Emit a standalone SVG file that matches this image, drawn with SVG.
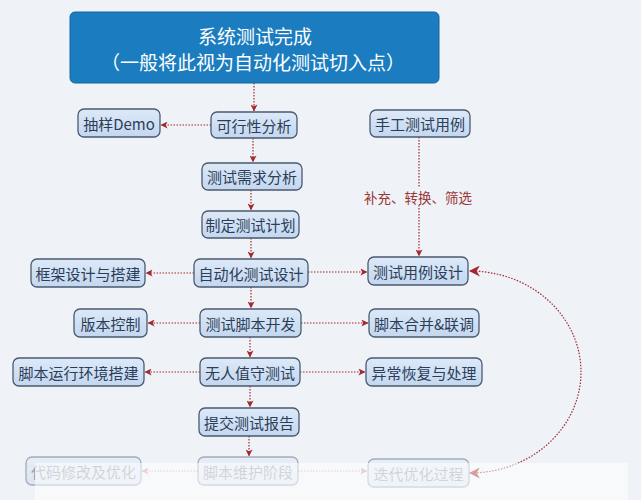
<svg xmlns="http://www.w3.org/2000/svg" width="641" height="500" viewBox="0 0 641 500">
<defs>
<linearGradient id="nodeFill" x1="0" y1="0" x2="0" y2="1">
<stop offset="0" stop-color="#dde9f8"/>
<stop offset="1" stop-color="#c3d7ef"/>
</linearGradient>
<marker id="arr" viewBox="0 0 8 8" refX="7.5" refY="4" markerWidth="7" markerHeight="7" markerUnits="userSpaceOnUse" orient="auto-start-reverse">
<path d="M0,0 L8,4 L0,8 L2,4 z" fill="#a3282e"/>
</marker>
<marker id="arrBig" viewBox="0 0 10 10" refX="9" refY="5" markerWidth="11" markerHeight="11" markerUnits="userSpaceOnUse" orient="auto-start-reverse">
<path d="M0,0 L10,5 L0,10 L3,5 z" fill="#a3282e"/>
</marker>
<style>
.bg{fill:#eff2f7}
.node rect{fill:url(#nodeFill);stroke:#4a5a70;stroke-width:1.3}
.node text{font-family:"Noto Sans CJK SC","Noto Sans",sans-serif;font-size:15px;fill:#2c3d58;text-anchor:middle;dominant-baseline:central}
.title rect{fill:#1b7dc0;stroke:#17679e;stroke-width:1}
.title text{font-family:"Noto Sans CJK SC","Noto Sans",sans-serif;font-size:19px;fill:#ffffff;text-anchor:middle;dominant-baseline:central}
.faded{opacity:0.45}
.edge{fill:none;stroke:#a3282e;stroke-width:1.2;stroke-dasharray:1.5 1.5}
.lbl{font-family:"Noto Sans CJK SC","Noto Sans",sans-serif;font-size:13.5px;fill:#9b3535;text-anchor:middle;dominant-baseline:central}
</style>
</defs>
<rect class="bg" x="0" y="0" width="641" height="500"/>

<g id="connectors">
<path class="edge" d="M254,83 V111" marker-end="url(#arr)"/>
<path class="edge" d="M211,125 H161" marker-end="url(#arr)"/>
<path class="edge" d="M253,138 V162" marker-end="url(#arr)"/>
<path class="edge" d="M251,190 V210" marker-end="url(#arr)"/>
<path class="edge" d="M251,238 V258" marker-end="url(#arr)"/>
<path class="edge" d="M419,137 V188"/>
<path class="edge" d="M419,205 V256" marker-end="url(#arr)"/>
<path class="edge" d="M194,273 H146" marker-end="url(#arr)"/>
<path class="edge" d="M308,272 H367" marker-end="url(#arr)"/>
<path class="edge" d="M251,287 V308" marker-end="url(#arr)"/>
<path class="edge" d="M200,323 H148" marker-end="url(#arr)"/>
<path class="edge" d="M301,323 H368" marker-end="url(#arr)"/>
<path class="edge" d="M250,337 V357" marker-end="url(#arr)"/>
<path class="edge" d="M200,372 H145" marker-end="url(#arr)"/>
<path class="edge" d="M300,372 H365" marker-end="url(#arr)"/>
<path class="edge" d="M250,386 V407" marker-end="url(#arr)"/>
<path class="edge" d="M249,436 V456" marker-end="url(#arr)"/>
<path class="edge" d="M470,271 A111 101 0 0 1 470,473" stroke="#8e2a38" stroke-width="1.4" stroke-dasharray="1.5 2" marker-start="url(#arrBig)" marker-end="url(#arrBig)"/>
<g class="faded">
<path class="edge" d="M198,471 H142" marker-end="url(#arr)"/>
<path class="edge" d="M298,471 H367" marker-end="url(#arr)"/>
</g>
<text class="lbl" x="418" y="197">补充、转换、筛选</text>
</g>

<g id="title" class="title">
<rect x="70" y="12" width="369" height="71" rx="5"/>
<text x="255" y="35.5">系统测试完成</text>
<text x="253" y="61">（一般将此视为自动化测试切入点）</text>
</g>

<g id="n-feasibility" class="node"><rect x="211" y="112" width="86" height="26" rx="6"/><text x="254" y="125">可行性分析</text></g>
<g id="n-demo" class="node"><rect x="78" y="109" width="82" height="28" rx="6"/><text x="119" y="123">抽样Demo</text></g>
<g id="n-manual" class="node"><rect x="370" y="110" width="100" height="27" rx="6"/><text x="420" y="123.5">手工测试用例</text></g>
<g id="n-req" class="node"><rect x="202" y="163" width="100" height="27" rx="6"/><text x="252" y="176.5">测试需求分析</text></g>
<g id="n-plan" class="node"><rect x="202" y="211" width="97" height="27" rx="6"/><text x="250.5" y="224.5">制定测试计划</text></g>
<g id="n-framework" class="node"><rect x="31" y="259" width="114" height="28" rx="6"/><text x="88" y="273">框架设计与搭建</text></g>
<g id="n-autodesign" class="node"><rect x="194" y="259" width="114" height="28" rx="6"/><text x="251" y="273">自动化测试设计</text></g>
<g id="n-casedesign" class="node"><rect x="368" y="257" width="100" height="28" rx="6"/><text x="418" y="271">测试用例设计</text></g>
<g id="n-version" class="node"><rect x="74" y="309" width="73" height="28" rx="6"/><text x="110.5" y="323">版本控制</text></g>
<g id="n-scriptdev" class="node"><rect x="200" y="309" width="101" height="28" rx="6"/><text x="250.5" y="323">测试脚本开发</text></g>
<g id="n-merge" class="node"><rect x="369" y="309" width="110" height="28" rx="6"/><text x="424" y="323">脚本合并&amp;联调</text></g>
<g id="n-env" class="node"><rect x="13" y="358" width="131" height="28" rx="6"/><text x="78.5" y="372">脚本运行环境搭建</text></g>
<g id="n-unattended" class="node"><rect x="200" y="358" width="100" height="28" rx="6"/><text x="250" y="372">无人值守测试</text></g>
<g id="n-recovery" class="node"><rect x="366" y="358" width="116" height="28" rx="6"/><text x="424" y="372">异常恢复与处理</text></g>
<g id="n-report" class="node"><rect x="199" y="408" width="100" height="28" rx="6"/><text x="249" y="422">提交测试报告</text></g>
<g id="n-codefix" class="node faded"><rect x="26" y="457" width="115" height="28" rx="6"/><text x="83.5" y="471">代码修改及优化</text></g>
<g id="n-maint" class="node faded"><rect x="198" y="457" width="100" height="28" rx="6"/><text x="248" y="471">脚本维护阶段</text></g>
<g id="n-iter" class="node faded"><rect x="368" y="459" width="101" height="28" rx="6"/><text x="418.5" y="473">迭代优化过程</text></g>

<rect x="35" y="463" width="593" height="37" fill="#ffffff" opacity="0.55"/>
</svg>
